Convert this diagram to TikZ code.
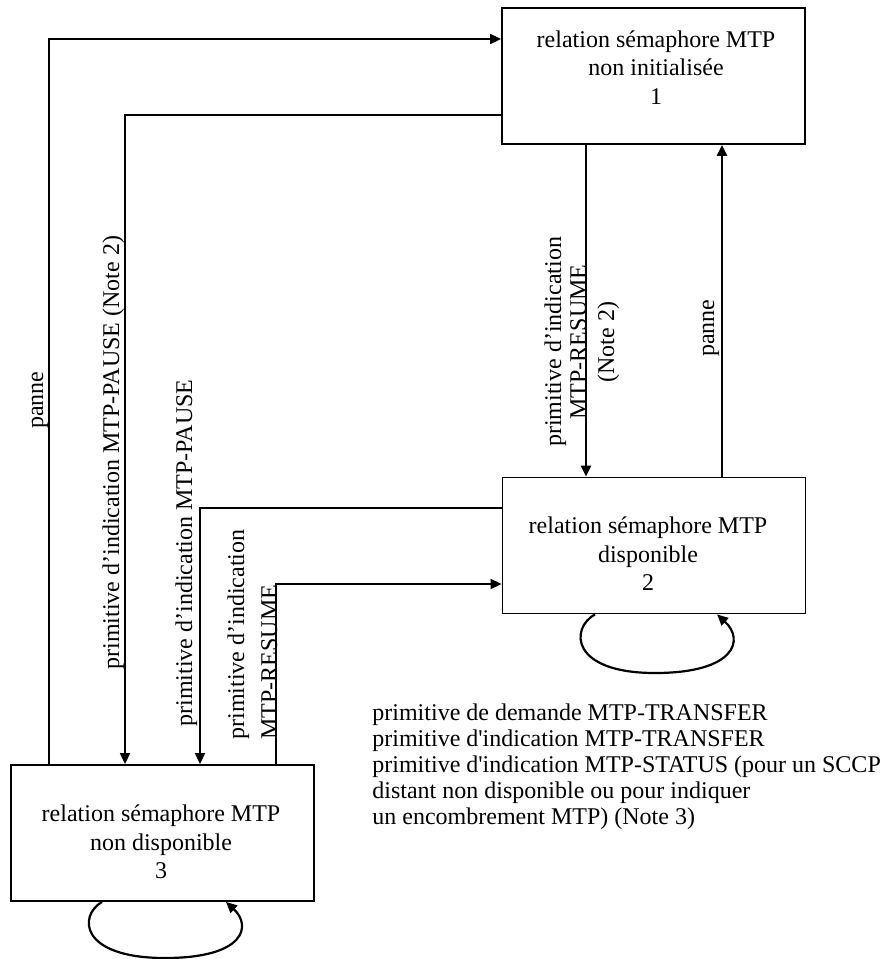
\documentclass[tikz,border=0pt]{standalone}
\usepackage{fontspec}
\setmainfont{Liberation Serif}[Ligatures=TeXOff]
\usetikzlibrary{arrows.meta}
\begin{document}
\begin{tikzpicture}[x=0.5pt,y=-0.5pt,
  stbox/.style={draw, line width=0.9pt, inner sep=0pt, minimum width=151.5pt, minimum height=68pt},
  boxtxt/.style={align=center, inner sep=0pt, font=\fontsize{12}{14.25}\selectfont},
  rtxt/.style={rotate=90, inner sep=0pt, font=\fontsize{12}{14}\selectfont},
  ln/.style={line width=0.85pt},
  thk/.style={line width=1.3pt},
  loopln/.style={line width=1.1pt},
  tip/.style={-{Triangle[length=5.5pt,width=5pt]}}]
\useasboundingbox (0,0) rectangle (884,959);
% boxes
\node[stbox] (b1) at (653.5,76) {};
\node[stbox] (b2) at (654,545.5) {};
\node[stbox] (b3) at (162.5,833) {};
\node[boxtxt] (t1) at (656,67.5) {relation sémaphore MTP\\non initialisée\\1};
\node[boxtxt] (t2) at (648,554) {relation sémaphore MTP\\disponible\\2};
\node[boxtxt] (t3) at (161,842) {relation sémaphore MTP\\non disponible\\3};
% helper coordinates
\coordinate (k1) at (49,39);
\coordinate (k2) at (125,115);
\coordinate (k3) at (200,508);
\coordinate (k4) at (276,584);
\coordinate (k5) at (586,0);
\coordinate (k6) at (722,0);
\coordinate (l2a) at (595,0);
\coordinate (l2b) at (717,0);
\coordinate (l3a) at (102,0);
\coordinate (l3b) at (226,0);
% connectors
\draw[ln,tip] (b3.north -| k1) |- (b1.west |- k1);
\draw[ln,tip] (b1.west |- k2) -| (b3.north -| k2);
\draw[ln,tip] (b2.west |- k3) -| (b3.north -| k3);
\draw[ln,tip] (b3.north -| k4) |- (b2.west |- k4);
\draw[thk,tip] (b1.south -| k5) -- (b2.north -| k5);
\draw[thk,tip] (b2.north -| k6) -- (b1.south -| k6);
\draw[loopln,tip] (b2.south -| l2a) .. controls (570,628) and (570,673) .. (655,673)
   .. controls (735,673) and (745,640) .. (b2.south -| l2b);
\draw[loopln,tip] (b3.south -| l3a) .. controls (78,916) and (80,958) .. (165,958)
   .. controls (245,958) and (252,926) .. (b3.south -| l3b);
% rotated labels
\node[rtxt, anchor=base] (pl) at (43,400) {panne};
\node[rtxt, anchor=base west] (pn2) at (119,670) {primitive d’indication MTP-PAUSE (Note 2)};
\node[rtxt, anchor=base west] (pp) at (192,727) {primitive d’indication MTP-PAUSE};
\node[rtxt, anchor=base west] (r3a) at (244,740) {primitive d’indication};
\node[rtxt, anchor=base west] (r3b) at (277,740) {MTP-RESUME};
\node[rtxt, anchor=base] (r1a) at (561,342) {primitive d’indication};
\node[rtxt, anchor=base] (r1b) at (586,342) {MTP-RESUME};
\node[rtxt, anchor=base] (r1c) at (614,342) {(Note 2)};
\node[rtxt, anchor=base] (pr) at (714,328) {panne};
% note text
\node[anchor=north west, align=left, inner sep=0pt, font=\fontsize{12}{13}\selectfont] (note) at (372,703)
  {primitive de demande MTP-TRANSFER\\primitive d'indication MTP-TRANSFER\\primitive d'indication MTP-STATUS (pour un SCCP\\distant non disponible ou pour indiquer\\un encombrement MTP) (Note 3)};
\end{tikzpicture}
\end{document}
